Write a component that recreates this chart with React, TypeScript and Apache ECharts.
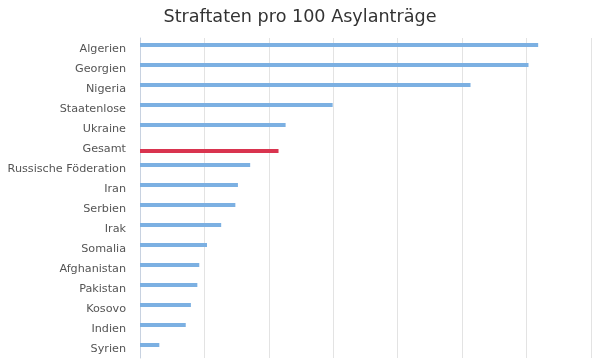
import React, { useEffect, useRef } from "react";
import * as echarts from "echarts";

const categories = [
  "Algerien", "Georgien", "Nigeria", "Staatenlose", "Ukraine", "Gesamt",
  "Russische Föderation", "Iran", "Serbien", "Irak", "Somalia", "Afghanistan",
  "Pakistan", "Kosovo", "Indien", "Syrien",
];
const countryValues = [61.8, 60.3, 51.3, 29.9, 22.6, null, 17.1, 15.2, 14.8, 12.6, 10.4, 9.2, 8.9, 7.9, 7.1, 3.0];
const totalValues = [null, null, null, null, null, 21.5, null, null, null, null, null, null, null, null, null, null];

export default function App() {
  const ref = useRef<HTMLDivElement>(null);
  useEffect(() => {
    if (!ref.current) return;
    const chart = echarts.init(ref.current, null, { renderer: "svg" });
    chart.setOption({
      animation: false,
      title: {
        text: "Straftaten pro 100 Asylanträge",
        left: "center",
        top: 2,
        textStyle: { fontFamily: "DejaVu Sans", fontSize: 17.6, fontWeight: "normal", color: "#333333" },
      },
      grid: { left: 140, right: 9, top: 38, bottom: 2 },
      xAxis: {
        type: "value",
        min: 0,
        max: 70,
        interval: 10,
        axisLabel: { show: false },
        axisLine: { show: false },
        axisTick: { show: false },
        splitLine: { lineStyle: { color: "#e3e3e3", width: 1 } },
      },
      yAxis: {
        type: "category",
        inverse: true,
        data: categories,
        axisLine: { lineStyle: { color: "#c8d2e0" } },
        axisTick: { length: 10, lineStyle: { color: "#c9b4be" } },
        axisLabel: { fontFamily: "DejaVu Sans", fontSize: 11.2, color: "#555555", margin: 14 },
      },
      series: [
        {
          type: "bar",
          data: countryValues,
          barWidth: 4,
          barGap: "50%",
          itemStyle: { color: "#7cb0e2" },
        },
        {
          type: "bar",
          data: totalValues,
          barWidth: 4,
          itemStyle: { color: "#d9344f" },
        },
      ],
    });
    return () => chart.dispose();
  }, []);
  return <div ref={ref} style={{ position: "fixed", left: 0, top: 0, width: 600, height: 360 }} />;
}
